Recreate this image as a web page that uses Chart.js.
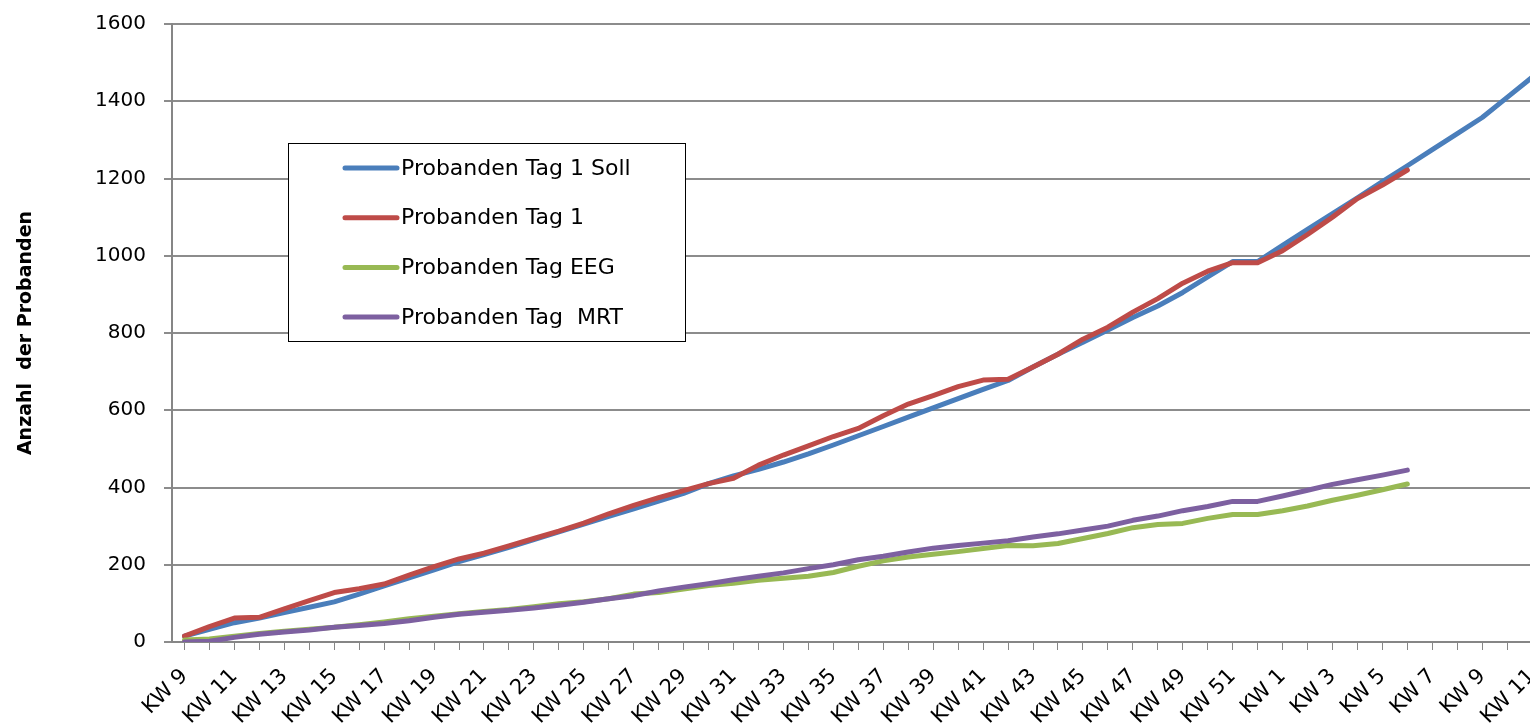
<!DOCTYPE html>
<html>
<head>
<meta charset="utf-8">
<script src="https://cdn.jsdelivr.net/npm/chart.js@4"></script>
<style>
  html, body { margin: 0; padding: 0; background: #fff; overflow: hidden; }
  #wrap { position: absolute; left: 0; top: -6px; width: 1564px; height: 734px; }
</style>
</head>
<body>
<div id="wrap"><canvas id="probChart"></canvas></div>
<script>
const weeks = [
  "KW 9", "KW 10", "KW 11", "KW 12", "KW 13", "KW 14", "KW 15", "KW 16", "KW 17", "KW 18",
  "KW 19", "KW 20", "KW 21", "KW 22", "KW 23", "KW 24", "KW 25", "KW 26", "KW 27", "KW 28",
  "KW 29", "KW 30", "KW 31", "KW 32", "KW 33", "KW 34", "KW 35", "KW 36", "KW 37", "KW 38",
  "KW 39", "KW 40", "KW 41", "KW 42", "KW 43", "KW 44", "KW 45", "KW 46", "KW 47", "KW 48",
  "KW 49", "KW 50", "KW 51", "KW 52", "KW 1", "KW 2", "KW 3", "KW 4", "KW 5", "KW 6",
  "KW 7", "KW 8", "KW 9", "KW 10", "KW 11"
];

// Soll-Kurve (läuft bis KW 11)
const tag1Soll = [15, 33, 50, 62, 76, 90, 104, 124, 145, 166, 187, 208, 226, 245, 265, 285, 305, 325, 345, 365,
  385, 410, 430, 447, 466, 487, 510, 534, 558, 582, 606, 630, 654, 677, 712, 745, 776, 808, 840, 870,
  905, 945, 985, 985, 1027, 1068, 1109, 1150, 1192, 1233, 1275, 1316, 1358, 1410, 1462];

const tag1 = [15, 40, 62, 64, 86, 107, 128, 138, 150, 173, 195, 215, 230, 249, 268, 287, 308, 332, 354, 374,
  392, 410, 424, 458, 484, 508, 532, 553, 586, 616, 638, 661, 678, 680, 712, 745, 784, 815, 854, 889,
  929, 960, 982, 982, 1013, 1055, 1100, 1148, 1183, 1222];

const tagEEG = [5, 8, 15, 22, 28, 33, 38, 45, 52, 60, 67, 73, 79, 84, 91, 99, 104, 112, 124, 128,
  137, 146, 152, 160, 165, 170, 180, 196, 210, 220, 227, 234, 242, 250, 249, 255, 268, 281, 296, 304,
  307, 320, 330, 330, 340, 352, 367, 380, 394, 409];

const tagMRT = [0, 2, 12, 20, 26, 31, 38, 43, 48, 55, 64, 72, 77, 82, 88, 95, 103, 112, 120, 132,
  142, 151, 161, 170, 179, 190, 200, 213, 222, 233, 243, 250, 256, 262, 272, 280, 290, 300, 315, 326,
  340, 351, 364, 364, 378, 393, 408, 420, 432, 445];

const yTicks = [0, 200, 400, 600, 800, 1000, 1200, 1400, 1600];

const FONT = '"DejaVu Sans", "Noto Sans", sans-serif';

// legend box sits inside the plot, like in the Excel original
// (canvas is shifted 6px up, so +6 on the y coords)
const legendBox = {
  id: 'legendBox',
  afterDatasetsDraw(chart) {
    const c = chart.ctx;
    c.save();
    c.fillStyle = '#fff';
    c.fillRect(288.5, 149.5, 397, 198);
    c.strokeStyle = '#000';
    c.lineWidth = 1;
    c.strokeRect(288.5, 149.5, 397, 198);
    chart.data.datasets.forEach((ds, i) => {
      const y = 174 + i * 49.7;
      c.strokeStyle = ds.borderColor;
      c.lineWidth = 5;
      c.lineCap = 'round';
      c.beginPath();
      c.moveTo(345, y);
      c.lineTo(397, y);
      c.stroke();
      c.fillStyle = '#000';
      c.font = '22px ' + FONT;
      c.textBaseline = 'middle';
      c.fillText(ds.label, 401, y + 1);
    });
    c.restore();
  }
};

const lineStyle = { borderWidth: 5, pointRadius: 0, tension: 0, borderCapStyle: 'round', borderJoinStyle: 'round', fill: false };

const ctx = document.getElementById('probChart').getContext('2d');
const chart = new Chart(ctx, {
  type: 'line',
  data: {
    labels: weeks,
    datasets: [
      { label: 'Probanden Tag 1 Soll', data: tag1Soll, borderColor: '#4a7ebb', order: 3, ...lineStyle },
      { label: 'Probanden Tag 1', data: tag1, borderColor: '#be4b48', order: 2, ...lineStyle },
      { label: 'Probanden Tag EEG', data: tagEEG, borderColor: '#98b954', order: 1, ...lineStyle },
      { label: 'Probanden Tag  MRT', data: tagMRT, borderColor: '#7d60a0', order: 0, ...lineStyle }
    ]
  },
  options: {
    responsive: true,
    maintainAspectRatio: false,
    animation: false,
    layout: { padding: { top: 14, right: 4, bottom: 0, left: 0 } },
    plugins: {
      legend: { display: false },
      tooltip: { enabled: false }
    },
    scales: {
      x: {
        offset: true,
        grid: { drawOnChartArea: false, drawTicks: true, tickLength: 8, color: '#868686', lineWidth: 1 },
        border: { color: '#868686', width: 2 },
        ticks: {
          autoSkip: false,
          minRotation: 45,
          maxRotation: 45,
          color: '#000',
          padding: 14,
          font: { family: FONT, size: 21 },
          callback: function (value, index) {
            return index % 2 === 0 ? this.getLabelForValue(value) : '';
          }
        },
        afterFit(scale) { scale.height = 86; }
      },
      y: {
        min: 0,
        max: 1600,
        afterBuildTicks(scale) { scale.ticks = yTicks.map(v => ({ value: v })); },
        grid: { color: '#8c8c8c', lineWidth: 2, tickLength: 8 },
        border: { color: '#868686', width: 2 },
        ticks: {
          color: '#000',
          padding: 18,
          font: { family: FONT, size: 20 },
          callback: v => String(v)
        },
        title: {
          display: true,
          text: 'Anzahl  der Probanden',
          color: '#000',
          font: { family: FONT, size: 19, weight: 'bold' },
          padding: { top: 15, bottom: 0 }
        },
        afterFit(scale) { scale.width = 172; }
      }
    }
  },
  plugins: [legendBox]
});
</script>
</body>
</html>
